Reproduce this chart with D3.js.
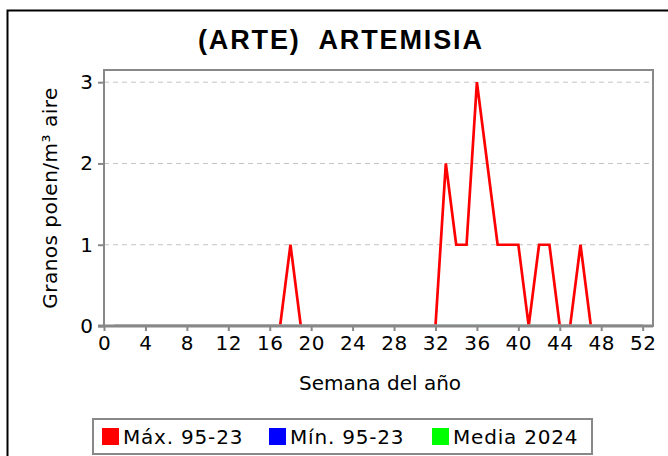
<!DOCTYPE html>
<html>
<head>
<meta charset="utf-8">
<script src="https://cdn.jsdelivr.net/npm/d3@7"></script>
<style>
  body { margin: 0; background: #fff; }
  svg { display: block; }
</style>
</head>
<body>
<div id="chart"></div>
<script>
// weeks of the year and the three series
var weeks = d3.range(1, 53);
var maxValues = [0,0,0,0,0,0,0,0,0,0,0,0,0,0,0,0,0,1,0,0,
                 0,0,0,0,0,0,0,0,0,0,0,0,2,1,1,3,2,1,1,1,
                 0,1,1,0,0,1,0,0,0,0,0,0];
var minValues = weeks.map(function(){ return 0; });
var mediaValues = weeks.map(function(){ return 0; });

var xTicks = d3.range(0, 53, 4);
var yTicks = [0, 1, 2, 3];

var series = [
  {name: "Mín. 95-23", color: "#0000ff", values: minValues},
  {name: "Media 2024", color: "#00ff00", values: mediaValues},
  {name: "Máx. 95-23", color: "#ff0000", values: maxValues}
];
var legendItems = [
  {name: "Máx. 95-23", color: "#ff0000"},
  {name: "Mín. 95-23", color: "#0000ff"},
  {name: "Media 2024", color: "#00ff00"}
];

var width = 668, height = 456;
var plot = {left: 104, right: 653, top: 70, bottom: 326};
var font = "'DejaVu Sans', sans-serif";

var svg = d3.select("#chart").append("svg")
    .attr("width", width)
    .attr("height", height);

// outer border (only left and top visible)
svg.append("rect")
  .attr("x", 7.5).attr("y", 10.5)
  .attr("width", 700).attr("height", 500)
  .attr("fill", "none")
  .attr("stroke", "#000")
  .attr("stroke-width", 2);

var x = d3.scaleLinear().domain([0, 53]).range([plot.left, plot.right]);
var y = d3.scaleLinear().domain([0, 3.15]).range([plot.bottom, plot.top]);

// title
svg.append("text")
  .attr("x", 198).attr("y", 49)
  .attr("textLength", 284)
  .attr("lengthAdjust", "spacing")
  .style("font-family", "'Liberation Sans', Arial, sans-serif")
  .style("font-weight", "bold")
  .style("font-size", "27px")
  .style("white-space", "pre")
  .text("(ARTE)  ARTEMISIA");

// grid
svg.append("g")
  .selectAll("line")
  .data(yTicks.filter(function(d){ return d > 0; }))
  .enter().append("line")
  .attr("x1", plot.left).attr("x2", plot.right)
  .attr("y1", function(d){ return y(d); })
  .attr("y2", function(d){ return y(d); })
  .attr("stroke", "#c4c4c4")
  .attr("stroke-width", 1)
  .attr("stroke-dasharray", "5,4");

// clip so the zero stretches sit under the axis
svg.append("defs").append("clipPath")
  .attr("id", "plotclip")
  .append("rect")
  .attr("x", plot.left).attr("y", plot.top - 5)
  .attr("width", plot.right - plot.left)
  .attr("height", plot.bottom - plot.top + 3.5);

// lines
var line = d3.line()
  .x(function(d, i){ return x(weeks[i]); })
  .y(function(d){ return y(d); });

svg.append("g")
  .attr("clip-path", "url(#plotclip)")
  .selectAll("path")
  .data(series)
  .enter().append("path")
  .attr("d", function(d){ return line(d.values); })
  .attr("fill", "none")
  .attr("stroke", function(d){ return d.color; })
  .attr("stroke-width", 2.7)
  .attr("stroke-linejoin", "miter");

// frame
svg.append("rect")
  .attr("x", plot.left).attr("y", plot.top)
  .attr("width", plot.right - plot.left)
  .attr("height", plot.bottom - plot.top)
  .attr("fill", "none")
  .attr("stroke", "#888")
  .attr("stroke-width", 2);

// x axis
var xAxis = svg.append("g")
  .attr("transform", "translate(0," + plot.bottom + ")")
  .call(d3.axisBottom(x).tickValues(xTicks).tickSize(5).tickPadding(5));
xAxis.select(".domain")
  .attr("d", "M" + (plot.left - 6) + ",0H" + plot.right)
  .attr("stroke", "#888").attr("stroke-width", 3);
xAxis.selectAll(".tick line").attr("stroke", "#888").attr("stroke-width", 2);
xAxis.selectAll(".tick text")
  .attr("fill", "#000")
  .style("font-family", font)
  .style("font-size", "20px")
  .style("letter-spacing", "0.5px");

// y axis
var yAxis = svg.append("g")
  .attr("transform", "translate(" + plot.left + ",0)")
  .call(d3.axisLeft(y).tickValues(yTicks).tickFormat(d3.format("d")).tickSize(6).tickPadding(5));
yAxis.select(".domain").remove();
yAxis.selectAll(".tick line").attr("stroke", "#888").attr("stroke-width", 2);
yAxis.selectAll(".tick text")
  .attr("fill", "#000")
  .style("font-family", font)
  .style("font-size", "20px");

// axis titles
svg.append("text")
  .attr("x", 380).attr("y", 390)
  .attr("text-anchor", "middle")
  .style("font-family", font)
  .style("font-size", "20px")
  .text("Semana del año");

svg.append("text")
  .attr("transform", "translate(57,198) rotate(-90)")
  .attr("text-anchor", "middle")
  .style("font-family", font)
  .style("font-size", "20px")
  .style("letter-spacing", "0.5px")
  .text("Granos polen/m³ aire");

// legend
svg.append("rect")
  .attr("x", 93).attr("y", 419)
  .attr("width", 499).attr("height", 35)
  .attr("fill", "#fff")
  .attr("stroke", "#888")
  .attr("stroke-width", 2);

var legendX = [102, 269, 432];
var lg = svg.append("g")
  .selectAll("g")
  .data(legendItems)
  .enter().append("g")
  .attr("transform", function(d, i){ return "translate(" + legendX[i] + ",428)"; });
lg.append("rect")
  .attr("width", 17).attr("height", 17)
  .attr("fill", function(d){ return d.color; });
lg.append("text")
  .attr("x", 21).attr("y", 16)
  .style("font-family", font)
  .style("font-size", "20px")
  .style("letter-spacing", "0.8px")
  .text(function(d){ return d.name; });
</script>
</body>
</html>
